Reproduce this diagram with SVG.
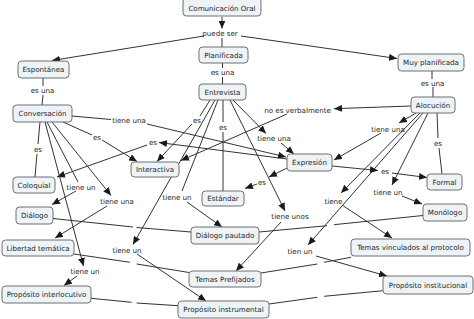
<svg xmlns="http://www.w3.org/2000/svg" width="474" height="319" viewBox="0 0 474 319">
<style>
.n rect{fill:#edf3f7;stroke:#6e6e6e;stroke-width:1}
text{font-family:"DejaVu Sans","Verdana",sans-serif;font-size:7.1px;fill:#262626;text-anchor:middle}
.c line{stroke:#333;stroke-width:1;fill:none}
.c line.a{marker-end:url(#ar)}
</style>
<defs>
<marker id="ar" viewBox="0 0 8 7" markerWidth="8" markerHeight="7" refX="8" refY="3.5" orient="auto" markerUnits="userSpaceOnUse">
<path d="M0,0 L8,3.5 L0,7 z" fill="#1a1a1a"/>
</marker>
</defs>
<rect width="474" height="319" fill="#fff"/>
<g id="connectors" class="c">
<line class="a" x1="222" y1="17" x2="222" y2="28.5"/>
<line class="a" x1="204" y1="36" x2="52" y2="60.5"/>
<line class="a" x1="241" y1="36" x2="397" y2="58.5"/>
<line x1="222" y1="38" x2="222" y2="47"/>
<line x1="222.5" y1="63" x2="222.5" y2="68"/>
<line x1="222.5" y1="77" x2="222.5" y2="84"/>
<line x1="43" y1="78" x2="43" y2="86"/>
<line x1="43" y1="95" x2="42" y2="105"/>
<line x1="432" y1="71" x2="432" y2="79"/>
<line x1="433" y1="87" x2="433" y2="97"/>
<line class="a" x1="411" y1="106" x2="334" y2="108.7"/>
<line class="a" x1="287" y1="114" x2="181" y2="160.5"/>
<line class="a" x1="416" y1="113" x2="399" y2="123"/>
<line class="a" x1="381" y1="133" x2="334" y2="160"/>
<line x1="437" y1="113" x2="438" y2="138"/>
<line x1="439" y1="148" x2="442" y2="174"/>
<line class="a" x1="420" y1="113" x2="341" y2="193"/>
<line class="a" x1="342" y1="205" x2="392" y2="238"/>
<line class="a" x1="423" y1="113" x2="308" y2="245"/>
<line class="a" x1="316" y1="256" x2="387" y2="276"/>
<line class="a" x1="428" y1="113" x2="392" y2="185"/>
<line class="a" x1="402" y1="196" x2="422" y2="204"/>
<line class="a" x1="332" y1="166" x2="378" y2="170.5"/>
<line class="a" x1="392" y1="173" x2="427" y2="177.5"/>
<line class="a" x1="287" y1="168" x2="269" y2="177"/>
<line class="a" x1="257" y1="184" x2="245" y2="188.5"/>
<line class="a" x1="287" y1="159" x2="159" y2="142.5"/>
<line class="a" x1="147" y1="145" x2="57" y2="177"/>
<line x1="72" y1="116" x2="111" y2="119.5"/>
<line class="a" x1="147" y1="124" x2="286" y2="157"/>
<line x1="63" y1="122" x2="92" y2="135"/>
<line class="a" x1="102" y1="140" x2="137" y2="161.5"/>
<line x1="40" y1="122" x2="38" y2="144"/>
<line x1="37" y1="154" x2="35" y2="177"/>
<line x1="47" y1="122" x2="78" y2="182"/>
<line class="a" x1="76" y1="191" x2="52" y2="204.5"/>
<line class="a" x1="52" y1="122" x2="111" y2="195.5"/>
<line class="a" x1="107" y1="206" x2="55" y2="238"/>
<line class="a" x1="45" y1="122" x2="83.5" y2="266"/>
<line class="a" x1="77" y1="276" x2="64" y2="285.5"/>
<line x1="210" y1="100" x2="200" y2="116"/>
<line class="a" x1="192" y1="124" x2="157" y2="161.5"/>
<line class="a" x1="215" y1="100" x2="133" y2="244.5"/>
<line class="a" x1="137" y1="254" x2="206" y2="301"/>
<line x1="218" y1="100" x2="182" y2="191"/>
<line class="a" x1="187" y1="202" x2="222" y2="227"/>
<line x1="223" y1="100" x2="223" y2="122"/>
<line x1="223" y1="132" x2="223" y2="191"/>
<line class="a" x1="233" y1="100" x2="266" y2="133.5"/>
<line class="a" x1="281" y1="143" x2="294" y2="154"/>
<line class="a" x1="230" y1="100" x2="285" y2="211"/>
<line class="a" x1="281" y1="222" x2="236" y2="271"/>
<line x1="53" y1="218.5" x2="133" y2="227"/>
<line x1="136.5" y1="227.5" x2="191" y2="232"/>
<line x1="259" y1="232" x2="327" y2="225.7"/>
<line x1="334" y1="224.7" x2="423" y2="215.5"/>
<line x1="74" y1="254" x2="130" y2="262.3"/>
<line x1="136.7" y1="264" x2="189" y2="272.5"/>
<line x1="261" y1="273" x2="317.3" y2="264"/>
<line x1="324" y1="262.3" x2="351" y2="257.3"/>
<line x1="91" y1="298.3" x2="131.7" y2="302.3"/>
<line x1="136.7" y1="303" x2="178" y2="305.7"/>
<line x1="269" y1="304" x2="317.3" y2="297.3"/>
<line x1="324" y1="296.3" x2="383" y2="290.7"/>
</g>
<g id="labels">
<text x="220" y="35.5">puede ser</text>
<text x="222.5" y="75">es una</text>
<text x="42.5" y="93">es una</text>
<text x="432.5" y="85.5">es una</text>
<text x="297.5" y="112.5">no es verbalmente</text>
<text x="129" y="123">tiene una</text>
<text x="97" y="140">es</text>
<text x="153" y="144.5">es</text>
<text x="197" y="122.5">es</text>
<text x="223" y="129.5">es</text>
<text x="274" y="140.5">tiene una</text>
<text x="388" y="131.5">tiene una</text>
<text x="438" y="145.5">es</text>
<text x="385" y="173.5">es</text>
<text x="262" y="184.5">es</text>
<text x="38" y="151.5">es</text>
<text x="81" y="189.5">tiene un</text>
<text x="117" y="203.5">tiene una</text>
<text x="85" y="273.5">tiene un</text>
<text x="177" y="199.5">tiene un</text>
<text x="127" y="252.5">tiene un</text>
<text x="290" y="218.5">tiene unos</text>
<text x="333.5" y="203.5">tiene</text>
<text x="300" y="253.5">tien un</text>
<text x="388" y="194.5">tiene un</text>
</g>
<g id="n1" class="n"><rect x="183" y="-2" width="78" height="18" rx="3.5"/><text x="222" y="10.5">Comunicación Oral</text></g>
<g id="n2" class="n"><rect x="199" y="47" width="49" height="16" rx="3.5"/><text x="223.5" y="57.5">Planificada</text></g>
<g id="n3" class="n"><rect x="199" y="84" width="47" height="16" rx="3.5"/><text x="222.5" y="94.5">Entrevista</text></g>
<g id="n4" class="n"><rect x="18" y="61" width="51" height="17" rx="3.5"/><text x="43.5" y="72">Espontánea</text></g>
<g id="n5" class="n"><rect x="13" y="105" width="59" height="17" rx="3.5"/><text x="42.5" y="116">Conversación</text></g>
<g id="n6" class="n"><rect x="398" y="54" width="66" height="17" rx="3.5"/><text x="431" y="65">Muy planificada</text></g>
<g id="n7" class="n"><rect x="411" y="97" width="44" height="16" rx="3.5"/><text x="433" y="107.5">Alocución</text></g>
<g id="n8" class="n"><rect x="131" y="162" width="48" height="15" rx="3.5"/><text x="155" y="172">Interactiva</text></g>
<g id="n9" class="n"><rect x="287" y="154" width="45" height="17" rx="3.5"/><text x="309.5" y="165">Expresión</text></g>
<g id="n10" class="n"><rect x="202" y="191" width="42" height="15" rx="3.5"/><text x="223" y="201">Estándar</text></g>
<g id="n11" class="n"><rect x="427" y="174" width="35" height="16" rx="3.5"/><text x="444.5" y="184.5">Formal</text></g>
<g id="n12" class="n"><rect x="13" y="177" width="42" height="16" rx="3.5"/><text x="34" y="187.5">Coloquial</text></g>
<g id="n13" class="n"><rect x="16" y="207" width="37" height="17" rx="3.5"/><text x="34.5" y="218">Diálogo</text></g>
<g id="n14" class="n"><rect x="423" y="204" width="44" height="17" rx="3.5"/><text x="445" y="215">Monólogo</text></g>
<g id="n15" class="n"><rect x="191" y="227" width="68" height="17" rx="3.5"/><text x="225" y="238">Diálogo pautado</text></g>
<g id="n16" class="n"><rect x="2" y="240" width="72" height="16" rx="3.5"/><text x="38" y="250.5">Libertad temática</text></g>
<g id="n17" class="n"><rect x="351" y="239" width="119" height="17" rx="3.5"/><text x="410.5" y="250">Temas vinculados al protocolo</text></g>
<g id="n18" class="n"><rect x="189" y="271" width="72" height="16" rx="3.5"/><text x="225" y="281.5">Temas Prefijados</text></g>
<g id="n19" class="n"><rect x="383" y="276" width="90" height="18" rx="3.5"/><text x="428" y="287.5">Propósito institucional</text></g>
<g id="n20" class="n"><rect x="2" y="286" width="89" height="17" rx="3.5"/><text x="46.5" y="297">Propósito interlocutivo</text></g>
<g id="n21" class="n"><rect x="178" y="301" width="91" height="17" rx="3.5"/><text x="223.5" y="312">Propósito instrumental</text></g>
</svg>
